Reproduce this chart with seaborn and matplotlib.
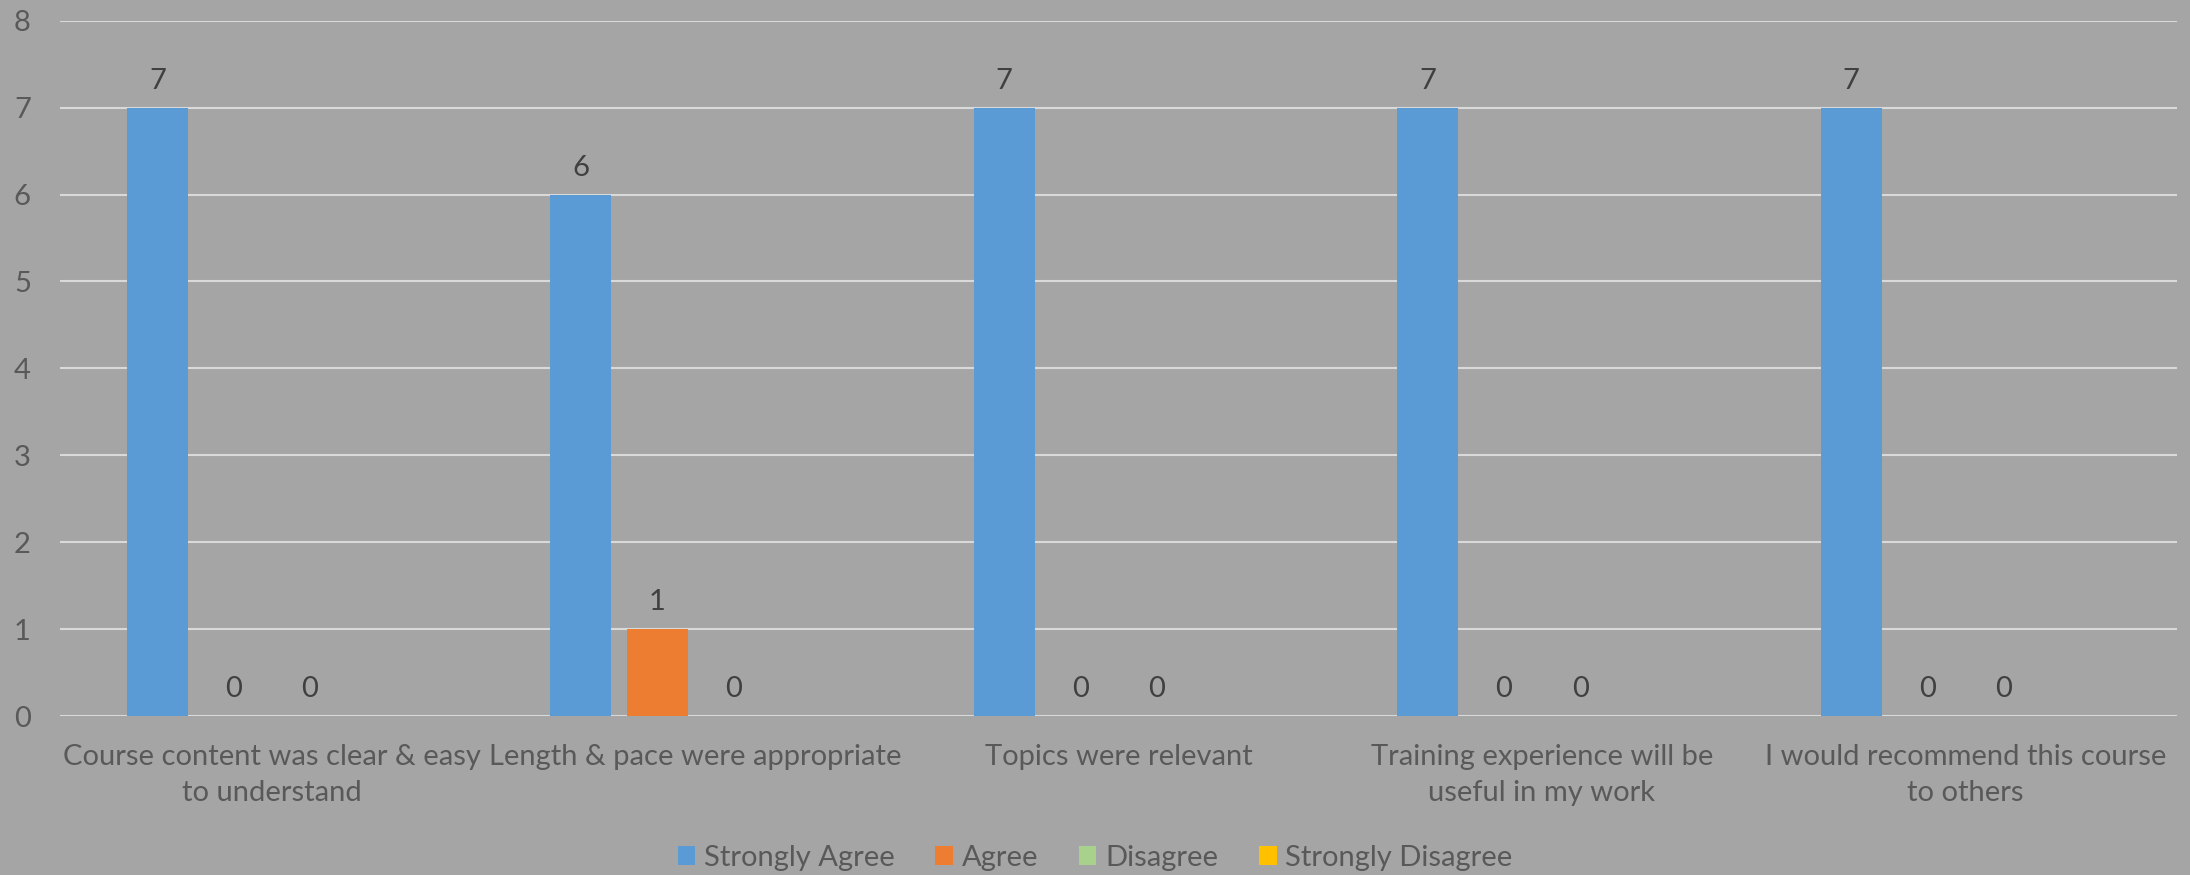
import numpy as np
import pandas as pd
import seaborn as sns
import matplotlib.pyplot as plt
from matplotlib.patches import Patch

# Survey answers per question (Strongly Disagree left blank in the source)
categories = [
    "Course content was clear & easy\nto understand",
    "Length & pace were appropriate",
    "Topics were relevant",
    "Training experience will be\nuseful in my work",
    "I would recommend this course\nto others",
]
series_names = ["Strongly Agree", "Agree", "Disagree", "Strongly Disagree"]
strongly_agree = [7, 6, 7, 7, 7]
agree = [0, 1, 0, 0, 0]
disagree = [0, 0, 0, 0, 0]
strongly_disagree = [np.nan, np.nan, np.nan, np.nan, np.nan]
y_ticks = [0, 1, 2, 3, 4, 5, 6, 7, 8]

colors = ["#5B9BD5", "#ED7D31", "#A9D18E", "#FFC000"]
bg = "#A5A5A5"

df = pd.DataFrame({
    "question": categories * 4,
    "answer": np.repeat(series_names, len(categories)),
    "count": strongly_agree + agree + disagree + strongly_disagree,
})

sns.set_style("white")
plt.rcParams['font.family'] = ['Lato', 'DejaVu Sans']
plt.rcParams['font.size'] = 21

fig = plt.figure(figsize=(21.9, 8.75), dpi=100, facecolor=bg)
ax = fig.add_axes([0.0274, 0.1817, 0.9667, 0.7946])
ax.set_facecolor(bg)

sns.barplot(data=df, x="question", y="count", hue="answer",
            order=categories, hue_order=series_names, palette=colors,
            width=0.72, gap=0.2, saturation=1, legend=False,
            linewidth=0, edgecolor='none', ax=ax)

for cont in ax.containers:
    ax.bar_label(cont, fmt='%g', padding=10, color="#404040", fontsize=21)

ax.set_xlim(-0.5, len(categories) - 0.5)
ax.set_ylim(0, 8)
ax.set_yticks(y_ticks)
ax.set_axisbelow(True)
ax.yaxis.grid(True, color="#D9D9D9", linewidth=1.5)
ax.xaxis.grid(False)
for s in ax.spines.values():
    s.set_visible(False)
ax.tick_params(axis='both', length=0, colors="#595959", labelsize=21)
ax.tick_params(axis='y', pad=21)
ax.tick_params(axis='x', pad=20)
for lbl in ax.get_xticklabels():
    lbl.set_linespacing(1.5)
ax.set_xlabel("")
ax.set_ylabel("")

handles = [Patch(facecolor=c, edgecolor='none') for c in colors]
fig.legend(handles, series_names, loc='center', bbox_to_anchor=(0.5, 0.0194),
           ncol=4, frameon=False, fontsize=21, labelcolor="#595959",
           handlelength=0.6, handleheight=0.6, handletextpad=0.3,
           columnspacing=1.4)

fig.savefig("out.png", dpi=100, facecolor=bg)
